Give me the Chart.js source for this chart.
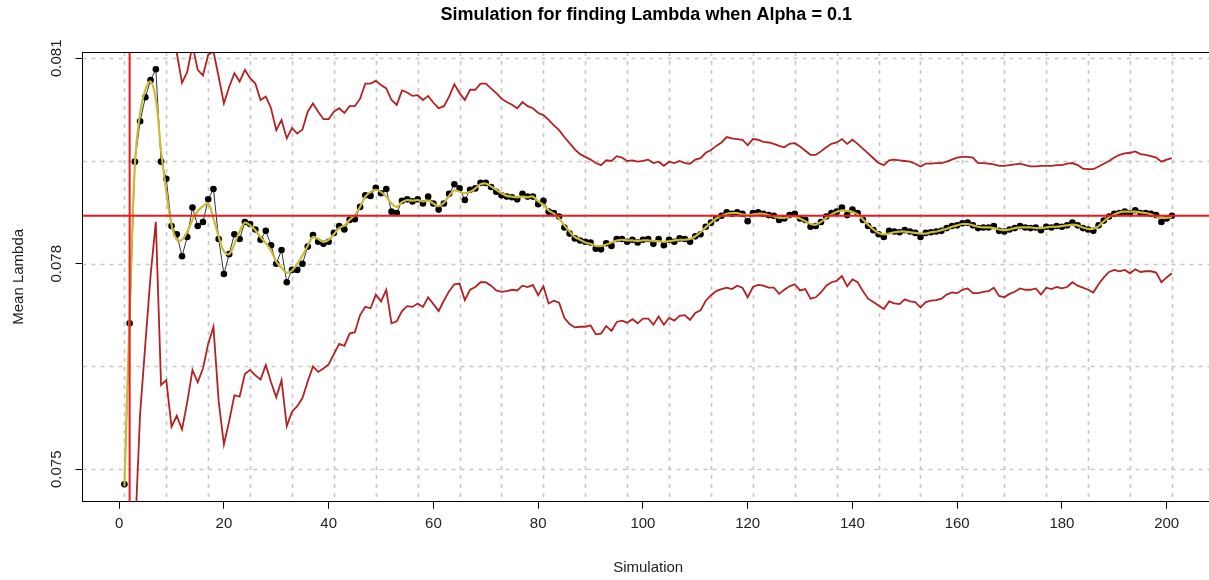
<!DOCTYPE html>
<html>
<head>
<meta charset="utf-8">
<script src="https://cdn.jsdelivr.net/npm/chart.js@4.4.1/dist/chart.umd.min.js"></script>
<style>
html,body{margin:0;padding:0;overflow:hidden;background:#fff;width:1209px;height:580px;}
#wrap{position:relative;width:1224px;height:580px;}
</style>
</head>
<body>
<div id="wrap"><canvas id="c"></canvas></div>
<script>
// ---- data ----
const meanLambda = [
0.07478,0.07713,0.07949,0.08008,0.08043,0.08068,0.08084,0.07949,0.07924,0.07855,
0.07843,0.07811,0.07839,0.07882,0.07855,0.07861,0.07894,0.07909,0.07836,0.07785,
0.07814,0.07843,0.07836,0.07861,0.07858,0.07850,0.07835,0.07848,0.07827,0.07800,
0.07820,0.07773,0.07791,0.07791,0.07800,0.07825,0.07842,0.07832,0.07829,0.07832,
0.07845,0.07855,0.07850,0.07864,0.07865,0.07883,0.07900,0.07899,0.07911,0.07903,
0.07909,0.07876,0.07874,0.07892,0.07894,0.07891,0.07894,0.07888,0.07898,0.07888,
0.07879,0.07888,0.07902,0.07916,0.07910,0.07893,0.07908,0.07910,0.07918,0.07918,
0.07912,0.07905,0.07900,0.07898,0.07897,0.07894,0.07902,0.07898,0.07898,0.07887,
0.07892,0.07876,0.07874,0.07869,0.07853,0.07844,0.07837,0.07834,0.07832,0.07831,
0.07822,0.07821,0.07830,0.07826,0.07836,0.07836,0.07832,0.07835,0.07831,0.07835,
0.07836,0.07829,0.07836,0.07827,0.07835,0.07832,0.07837,0.07836,0.07832,0.07840,
0.07843,0.07854,0.07860,0.07866,0.07870,0.07875,0.07873,0.07875,0.07873,0.07862,
0.07874,0.07875,0.07873,0.07871,0.07870,0.07864,0.07866,0.07871,0.07873,0.07866,
0.07864,0.07854,0.07855,0.07861,0.07869,0.07874,0.07876,0.07882,0.07871,0.07879,
0.07874,0.07864,0.07855,0.07849,0.07843,0.07839,0.07848,0.07847,0.07846,0.07849,
0.07847,0.07845,0.07839,0.07845,0.07846,0.07847,0.07848,0.07852,0.07855,0.07856,
0.07859,0.07860,0.07856,0.07852,0.07853,0.07853,0.07855,0.07848,0.07847,0.07850,
0.07852,0.07855,0.07853,0.07852,0.07853,0.07849,0.07854,0.07853,0.07855,0.07854,
0.07856,0.07860,0.07856,0.07852,0.07850,0.07848,0.07856,0.07863,0.07869,0.07873,
0.07874,0.07876,0.07874,0.07878,0.07874,0.07874,0.07873,0.07871,0.07861,0.07866,0.07870
];
// yellow smoothed curve
const smoothLambda = [
0.07475,0.07724,0.07944,0.08021,0.08054,0.08066,0.08040,0.07965,0.07905,0.07857,
0.07835,0.07835,0.07847,0.07864,0.07877,0.07884,0.07888,0.07866,0.07840,0.07818,
0.07814,0.07829,0.07847,0.07860,0.07856,0.07849,0.07839,0.07830,0.07819,0.07803,
0.07794,0.07787,0.07790,0.07800,0.07812,0.07826,0.07839,0.07836,0.07832,0.07835,
0.07843,0.07852,0.07856,0.07864,0.07871,0.07883,0.07898,0.07905,0.07908,0.07905,
0.07898,0.07888,0.07883,0.07890,0.07893,0.07892,0.07893,0.07891,0.07892,0.07888,
0.07884,0.07889,0.07899,0.07907,0.07905,0.07903,0.07905,0.07910,0.07916,0.07917,
0.07913,0.07908,0.07903,0.07899,0.07898,0.07897,0.07898,0.07897,0.07898,0.07891,
0.07886,0.07878,0.07873,0.07866,0.07856,0.07847,0.07839,0.07835,0.07831,0.07829,
0.07826,0.07826,0.07828,0.07831,0.07834,0.07835,0.07834,0.07834,0.07833,0.07834,
0.07834,0.07833,0.07833,0.07832,0.07833,0.07834,0.07835,0.07835,0.07836,0.07840,
0.07846,0.07853,0.07860,0.07866,0.07870,0.07873,0.07874,0.07874,0.07872,0.07871,
0.07872,0.07873,0.07873,0.07871,0.07869,0.07867,0.07867,0.07869,0.07869,0.07866,
0.07862,0.07858,0.07857,0.07861,0.07867,0.07872,0.07876,0.07878,0.07877,0.07876,
0.07872,0.07865,0.07857,0.07850,0.07845,0.07843,0.07844,0.07846,0.07847,0.07847,
0.07846,0.07845,0.07844,0.07844,0.07846,0.07847,0.07849,0.07851,0.07854,0.07856,
0.07858,0.07858,0.07856,0.07854,0.07853,0.07853,0.07852,0.07850,0.07849,0.07850,
0.07852,0.07853,0.07853,0.07853,0.07852,0.07852,0.07853,0.07854,0.07854,0.07855,
0.07856,0.07857,0.07856,0.07853,0.07851,0.07851,0.07855,0.07862,0.07868,0.07872,
0.07875,0.07876,0.07876,0.07876,0.07875,0.07874,0.07872,0.07869,0.07867,0.07867,0.07868
];
const upperCI = [
null,0.08713,0.08498,0.08435,0.08403,0.08353,0.08307,0.08275,0.08218,0.08148,
0.08108,0.08064,0.08080,0.08119,0.08083,0.08075,0.08105,0.08110,0.08073,0.08034,
0.08058,0.08078,0.08066,0.08083,0.08071,0.08063,0.08039,0.08044,0.08027,0.07995,
0.08010,0.07983,0.07998,0.07990,0.07996,0.08022,0.08034,0.08022,0.08011,0.08011,
0.08022,0.08027,0.08020,0.08030,0.08030,0.08041,0.08063,0.08063,0.08067,0.08061,
0.08056,0.08039,0.08032,0.08053,0.08050,0.08045,0.08046,0.08039,0.08045,0.08035,
0.08027,0.08030,0.08044,0.08062,0.08049,0.08039,0.08054,0.08054,0.08063,0.08063,
0.08056,0.08049,0.08041,0.08036,0.08032,0.08027,0.08036,0.08030,0.08027,0.08020,
0.08017,0.08010,0.08002,0.07995,0.07985,0.07976,0.07967,0.07960,0.07956,0.07952,
0.07947,0.07944,0.07951,0.07950,0.07957,0.07955,0.07950,0.07951,0.07949,0.07950,
0.07952,0.07947,0.07949,0.07943,0.07949,0.07947,0.07950,0.07947,0.07946,0.07952,
0.07954,0.07962,0.07966,0.07972,0.07977,0.07985,0.07983,0.07982,0.07981,0.07973,
0.07982,0.07981,0.07978,0.07977,0.07975,0.07972,0.07970,0.07975,0.07976,0.07971,
0.07965,0.07959,0.07959,0.07964,0.07970,0.07975,0.07977,0.07982,0.07975,0.07981,
0.07975,0.07968,0.07961,0.07954,0.07947,0.07944,0.07951,0.07952,0.07951,0.07950,
0.07949,0.07946,0.07942,0.07946,0.07946,0.07947,0.07947,0.07949,0.07952,0.07955,
0.07956,0.07956,0.07955,0.07947,0.07947,0.07946,0.07945,0.07943,0.07943,0.07944,
0.07945,0.07946,0.07944,0.07942,0.07942,0.07943,0.07943,0.07943,0.07944,0.07944,
0.07946,0.07947,0.07944,0.07939,0.07938,0.07938,0.07942,0.07946,0.07950,0.07955,
0.07959,0.07961,0.07962,0.07964,0.07960,0.07959,0.07957,0.07955,0.07949,0.07952,0.07954
];
const lowerCI = [
null,0.06713,0.07400,0.07581,0.07683,0.07783,0.07861,0.07623,0.07630,0.07562,
0.07578,0.07558,0.07598,0.07645,0.07627,0.07647,0.07683,0.07708,0.07599,0.07536,
0.07570,0.07608,0.07606,0.07639,0.07645,0.07637,0.07631,0.07652,0.07627,0.07605,
0.07630,0.07563,0.07584,0.07592,0.07604,0.07628,0.07650,0.07642,0.07647,0.07653,
0.07668,0.07683,0.07680,0.07698,0.07700,0.07725,0.07737,0.07735,0.07755,0.07745,
0.07762,0.07713,0.07716,0.07731,0.07738,0.07737,0.07742,0.07737,0.07751,0.07741,
0.07731,0.07746,0.07760,0.07770,0.07771,0.07747,0.07762,0.07766,0.07773,0.07773,
0.07768,0.07761,0.07759,0.07760,0.07762,0.07761,0.07768,0.07766,0.07769,0.07754,
0.07767,0.07742,0.07746,0.07743,0.07721,0.07712,0.07707,0.07708,0.07708,0.07710,
0.07697,0.07698,0.07709,0.07702,0.07715,0.07717,0.07714,0.07719,0.07713,0.07720,
0.07720,0.07711,0.07723,0.07711,0.07721,0.07717,0.07724,0.07725,0.07718,0.07728,
0.07732,0.07746,0.07754,0.07760,0.07763,0.07765,0.07763,0.07768,0.07765,0.07751,
0.07766,0.07769,0.07768,0.07765,0.07765,0.07756,0.07762,0.07767,0.07770,0.07761,
0.07763,0.07749,0.07751,0.07758,0.07768,0.07773,0.07775,0.07782,0.07767,0.07777,
0.07773,0.07760,0.07749,0.07744,0.07739,0.07734,0.07745,0.07742,0.07741,0.07748,
0.07745,0.07744,0.07736,0.07744,0.07746,0.07747,0.07749,0.07755,0.07758,0.07757,
0.07762,0.07764,0.07757,0.07757,0.07759,0.07760,0.07765,0.07753,0.07751,0.07756,
0.07759,0.07764,0.07762,0.07762,0.07764,0.07755,0.07765,0.07763,0.07766,0.07764,
0.07766,0.07773,0.07768,0.07765,0.07762,0.07758,0.07770,0.07780,0.07788,0.07791,
0.07789,0.07791,0.07786,0.07792,0.07788,0.07789,0.07789,0.07787,0.07773,0.07780,0.07786
];
const simulation = meanLambda.map((_, i) => i + 1);

const xTickValues = [0, 20, 40, 60, 80, 100, 120, 140, 160, 180, 200];
const yTickValues = [0.075, 0.078, 0.081];
const yTickLabels = ['0.075', '0.078', '0.081'];
const xGridValues = [1, 9, 17, 25, 33, 41, 49, 57, 65, 73, 81, 89, 97, 105, 113, 121, 129, 137, 145, 153, 161, 169, 177, 185, 193, 201];
const yGridValues = [0.075, 0.0765, 0.078, 0.0795, 0.081];
const xLimits = [-7, 209];
const yLimits = [0.074526, 0.081091];
const trueLambda = 0.0787;
const markerSimulation = 2;

const titleText = 'Simulation for finding Lambda when Alpha = 0.1';
const xTitleText = 'Simulation';
const yTitleText = 'Mean Lambda';

// ---- chart ----
const FONT = '"Liberation Sans", Arial, Helvetica, sans-serif';
const pts = arr => simulation.map((s, i) => ({x: s, y: arr[i]}));

const decor = {
  id: 'decor',
  beforeDatasetsDraw(chart) {
    const {ctx, chartArea: a, scales: {x, y}} = chart;
    ctx.save();
    ctx.beginPath();
    ctx.rect(a.left, a.top, a.right - a.left, a.bottom - a.top);
    ctx.clip();
    ctx.strokeStyle = '#c8c8c8';
    ctx.lineWidth = 1.7;
    ctx.setLineDash([4, 5]);
    xGridValues.forEach(v => {
      const px = Math.round(x.getPixelForValue(v)) + 0.5;
      ctx.beginPath(); ctx.moveTo(px, a.top); ctx.lineTo(px, a.bottom); ctx.stroke();
    });
    yGridValues.forEach(v => {
      const py = Math.round(y.getPixelForValue(v)) + 0.5;
      ctx.beginPath(); ctx.moveTo(a.left, py); ctx.lineTo(a.right, py); ctx.stroke();
    });
    ctx.restore();
  },
  afterDraw(chart) {
    const {ctx, chartArea: a, scales: {y}} = chart;
    ctx.save();
    ctx.strokeStyle = '#000'; ctx.lineWidth = 1;
    ctx.beginPath(); ctx.moveTo(a.left, Math.round(a.top) + 0.5); ctx.lineTo(a.right, Math.round(a.top) + 0.5); ctx.stroke();
    ctx.fillStyle = '#222';
    ctx.font = '15px ' + FONT;
    ctx.textAlign = 'center';
    ctx.textBaseline = 'middle';
    yTickValues.forEach((v, i) => {
      ctx.save();
      ctx.translate(57, y.getPixelForValue(v));
      ctx.rotate(-Math.PI / 2);
      ctx.fillText(yTickLabels[i], 0, 0);
      ctx.restore();
    });
    const cx = (a.left + a.right) / 2;
    ctx.fillText(xTitleText, cx, 568);
    ctx.save();
    ctx.translate(19, (a.top + a.bottom) / 2);
    ctx.rotate(-Math.PI / 2);
    ctx.fillText(yTitleText, 0, 0);
    ctx.restore();
    ctx.fillStyle = '#000';
    ctx.font = 'bold 18px ' + FONT;
    ctx.fillText(titleText, cx - 2, 15);
    ctx.restore();
  }
};

new Chart(document.getElementById('c'), {
  type: 'scatter',
  data: {
    datasets: [
      { label: 'ref-v', data: [{x: markerSimulation, y: yLimits[0]}, {x: markerSimulation, y: yLimits[1]}],
        showLine: true, borderColor: '#f3161b', borderWidth: 2, pointRadius: 0, order: 1 },
      { label: 'ref-h', data: [{x: xLimits[0], y: trueLambda}, {x: xLimits[1], y: trueLambda}],
        showLine: true, borderColor: '#f3161b', borderWidth: 2, pointRadius: 0, order: 2 },
      { label: 'smooth', data: pts(smoothLambda), showLine: true, borderColor: '#cbbb34', borderWidth: 2.2,
        pointRadius: 0, tension: 0.4, order: 3 },
      { label: 'mean', data: pts(meanLambda), showLine: true, borderColor: '#333', borderWidth: 1,
        pointRadius: 3.3, pointBackgroundColor: '#000', pointBorderWidth: 0, order: 4 },
      { label: 'upper', data: pts(upperCI), showLine: true, borderColor: '#b22222', borderWidth: 1.8,
        pointRadius: 0, order: 5 },
      { label: 'lower', data: pts(lowerCI), showLine: true, borderColor: '#b22222', borderWidth: 1.8,
        pointRadius: 0, order: 6 }
    ]
  },
  options: {
    responsive: true,
    maintainAspectRatio: false,
    animation: false,
    devicePixelRatio: 1,
    layout: { padding: { top: 52, right: 10.2, left: 0, bottom: 0 } },
    plugins: { legend: { display: false }, tooltip: { enabled: false }, title: { display: false } },
    scales: {
      x: {
        type: 'linear', min: xLimits[0], max: xLimits[1],
        afterBuildTicks: s => { s.ticks = xTickValues.map(v => ({value: v})); },
        afterFit: s => { s.height = 78.3; },
        grid: { drawOnChartArea: false, drawTicks: true, tickLength: 7, color: '#000', lineWidth: 1 },
        border: { display: true, color: '#000', width: 1 },
        ticks: { font: { family: FONT, size: 15 }, color: '#222', padding: 6, maxRotation: 0, minRotation: 0,
                 autoSkip: false, callback: v => String(v) }
      },
      y: {
        type: 'linear', min: yLimits[0], max: yLimits[1],
        afterBuildTicks: s => { s.ticks = yTickValues.map(v => ({value: v})); },
        afterFit: s => { s.width = 82.5; },
        grid: { drawOnChartArea: false, drawTicks: true, tickLength: 7, color: '#000', lineWidth: 1 },
        border: { display: true, color: '#000', width: 1 },
        ticks: { display: false }
      }
    }
  },
  plugins: [decor]
});
</script>
</body>
</html>
